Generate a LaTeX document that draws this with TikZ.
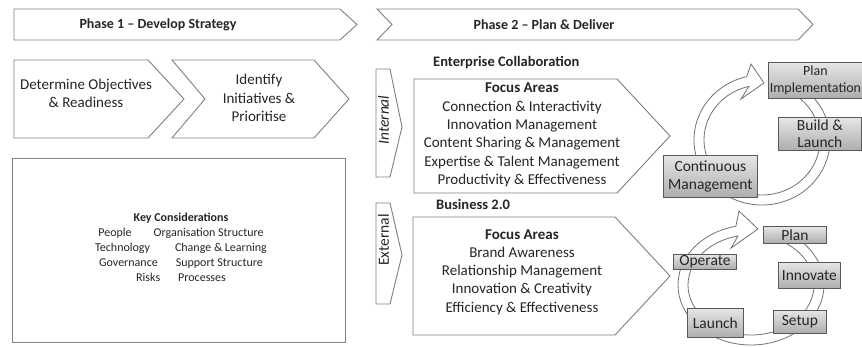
\documentclass[tikz,border=0pt]{standalone}
\usepackage{fontspec}
\setmainfont{Carlito}
\usetikzlibrary{calc}
\begin{document}
\begin{tikzpicture}[x=1pt,y=-1pt,
  outline/.style={draw=black!50, line width=0.9pt, fill=white},
  ring/.style={draw=black!55, line width=0.8pt, fill=white},
  txt/.style={text=black!85, inner sep=0pt, align=center},
  big/.style={font=\fontsize{15}{18.3}\selectfont},
  cyclebox/.style={draw=black!65, line width=0.8pt, top color=black!10, bottom color=black!32,
    inner sep=0pt, anchor=north west, align=center, text=black!85,
    font=\fontsize{15.5}{17}\selectfont},
  keytxt/.style={font=\fontsize{12}{15}\selectfont}]
\useasboundingbox (0,0) rectangle (862,347);
\clip (0,0) rectangle (862,347);
\fill[white] (0,0) rectangle (862,347);

% phase arrows
\draw[outline] (14,9) -- (340,9) -- (357,24.5) -- (340,40) -- (14,40) -- cycle;
\draw[outline] (377,9) -- (798,9) -- (813,24.5) -- (798,40) -- (377,40) -- (392,24.5) -- cycle;
\node[txt, font=\bfseries\fontsize{14}{16}\selectfont] (p1) at (158,24.5) {Phase 1 -- Develop Strategy};
\node[txt, font=\bfseries\fontsize{14}{16}\selectfont] (p2) at (544,24.5) {Phase 2 -- Plan \& Deliver};

% phase 1 chevrons
\draw[outline] (14,60) -- (148,60) -- (184,99) -- (148,138) -- (14,138) -- cycle;
\draw[outline] (172,60) -- (314,60) -- (349,99) -- (314,138) -- (172,138) -- (205,99) -- cycle;
\node[txt, big] (det) at (86,93.5) {Determine Objectives\\\& Readiness};
\node[txt, big] (idt) at (259,98) {Identify\\Initiatives \&\\Prioritise};

% key considerations
\draw[outline] (12,158) rectangle (345,342);
\node[txt, keytxt] (key) at (181,247) {\textbf{Key Considerations}\\
People\hspace{22pt}Organisation Structure\\
Technology\hspace{25pt}Change \& Learning\\
Governance\hspace{18pt}Support Structure\\
Risks\hspace{18pt}Processes};

% internal / external
\draw[outline] (376,69) -- (390,69) -- (402,127) -- (390,177) -- (376,177) -- cycle;
\draw[outline] (376,203) -- (390,203) -- (402,255) -- (390,304) -- (376,304) -- cycle;
\node[txt, rotate=90, font=\itshape\fontsize{15.5}{18}\selectfont] (int) at (383.5,120) {Internal};
\node[txt, rotate=90, font=\fontsize{15.5}{18}\selectfont] (ext) at (383.5,240) {External};

% focus chevrons
\draw[outline] (414,79) -- (617,79) -- (670,136) -- (617,193) -- (414,193) -- cycle;
\draw[outline] (413,217) -- (615,217) -- (670,276) -- (615,335) -- (413,335) -- cycle;
\node[txt, anchor=west, font=\bfseries\fontsize{14.5}{17}\selectfont] (ec) at (433,63) {Enterprise Collaboration};
\node[txt, anchor=west, font=\bfseries\fontsize{14.5}{17}\selectfont] (b2) at (436,204) {Business 2.0};
\node[txt, big] (fa1) at (522,135) {\textbf{Focus Areas}\\Connection \& Interactivity\\Innovation Management\\Content Sharing \& Management\\Expertise \& Talent Management\\Productivity \& Effectiveness};
\node[txt, big] (fa2) at (522,272) {\textbf{Focus Areas}\\Brand Awareness\\Relationship Management\\Innovation \& Creativity\\Efficiency \& Effectiveness};

% top cycle ring
\filldraw[ring] ($(762,140)+(-60:68 and 65)$) arc[start angle=-60, end angle=257, x radius=68, y radius=65]
  -- (751,64) -- (764,83) -- (741,99) -- ($(762,140)+(257:58 and 55)$)
  arc[start angle=257, end angle=-60, x radius=58, y radius=55] -- cycle;
% bottom cycle ring
\filldraw[ring] ($(751,285)+(-55:73 and 60)$) arc[start angle=-55, end angle=258, x radius=73, y radius=60]
  -- (739,211) -- (758,229) -- (731,248) -- ($(751,285)+(258:63 and 50)$)
  arc[start angle=258, end angle=-55, x radius=63, y radius=50] -- cycle;

% top cycle boxes
\node[cyclebox, minimum width=94pt, minimum height=36pt, font=\fontsize{14}{16.5}\selectfont] (pi) at (768,62) {Plan\\Implementation};
\node[cyclebox, minimum width=83pt, minimum height=33pt] (bl) at (778,117) {Build \&\\Launch};
\node[cyclebox, minimum width=94pt, minimum height=42pt, font=\fontsize{15.5}{18}\selectfont] (cm) at (663,155) {Continuous\\Management};

% bottom cycle boxes
\node[cyclebox, minimum width=63pt, minimum height=17pt] (pl) at (763,226) {Plan};
\node[cyclebox, minimum width=62pt, minimum height=26pt] (inn) at (778,262) {Innovate};
\node[cyclebox, minimum width=63pt, minimum height=15pt] (op) at (673,254) {Operate};
\node[cyclebox, minimum width=56pt, minimum height=29pt] (la) at (687,308) {Launch};
\node[cyclebox, minimum width=53pt, minimum height=23pt] (se) at (773,310) {Setup};
\end{tikzpicture}
\end{document}
